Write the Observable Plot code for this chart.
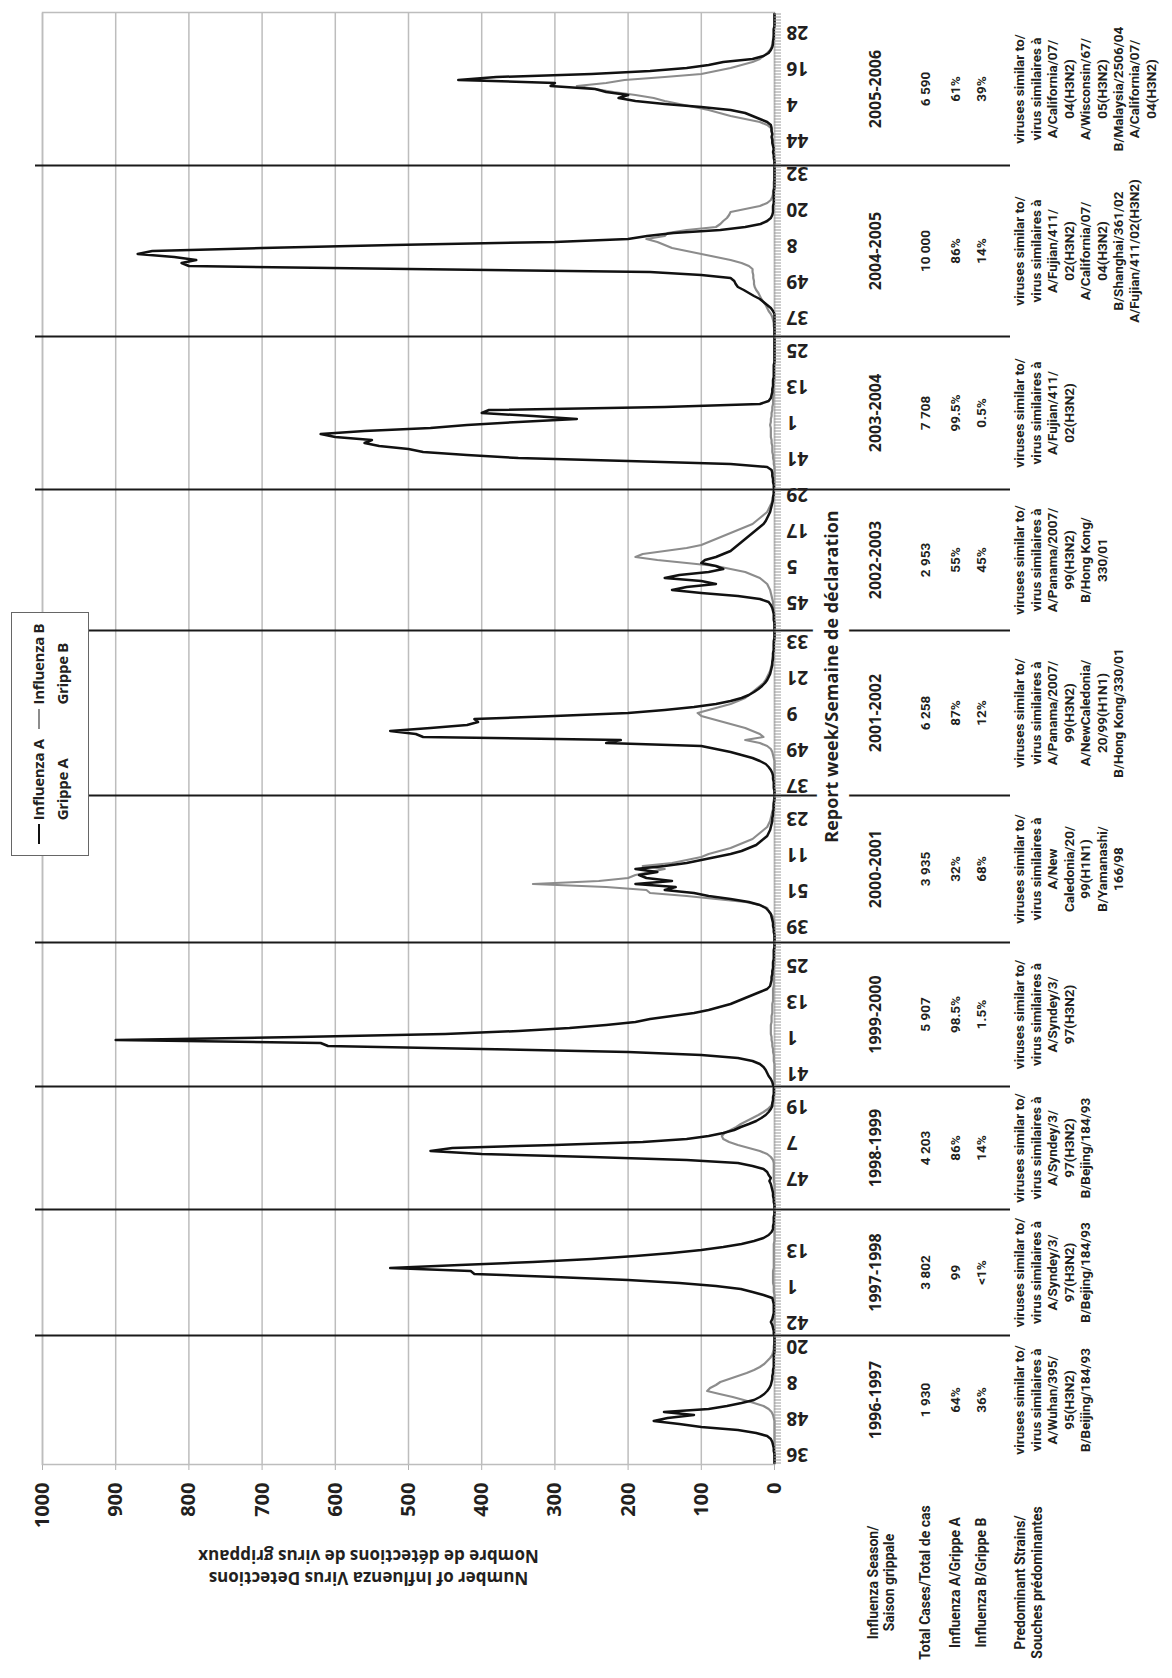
<!DOCTYPE html>
<html><head><meta charset="utf-8">
<script src="https://cdn.jsdelivr.net/npm/d3@7"></script>
<script src="https://cdn.jsdelivr.net/npm/@observablehq/plot@0.6"></script>
<style>
html,body{margin:0;padding:0;background:#fff;overflow:hidden;width:1172px;height:1678px;}
#page{position:absolute;left:0;top:0;width:1678px;height:1172px;transform-origin:0 0;transform:translate(0,1678px) rotate(-90deg);background:#fff;font-family:"Open Sans",sans-serif;color:#231f20;}
#legend{position:absolute;left:822px;top:11px;width:244px;height:78px;border:1.5px solid #666;background:#fff;display:flex;align-items:center;justify-content:space-evenly;box-sizing:border-box;}
.item{display:flex;align-items:flex-start;font-weight:700;font-size:15px;line-height:1.6;white-space:nowrap;letter-spacing:-0.3px;}
.sw{width:20px;height:0;border-top:2.5px solid #111;margin:12px 4px 0 0;}
</style></head><body><div id="page"></div>
<script>
// ---- data ----
const seasons = ["1996-1997","1997-1998","1998-1999","1999-2000","2000-2001","2001-2002","2002-2003","2003-2004","2004-2005","2005-2006"];
const firstWeek = [33, 38, 37, 37, 34, 34, 36, 31, 31, 36];
const weeksInFirstYear = [52, 53, 52, 52, 52, 52, 52, 52, 53, 52];
const weekLabels = [[36,48,8,20],[42,1,13],[47,7,19],[41,1,13,25],[39,51,11,23],[37,49,9,21,33],[45,5,17,29],[41,1,13,25],[37,49,8,20,32],[44,4,16,28]];

const fluA = [
  [0,0,0,0,1,1,2,3,5,10, 25,50,100,130,165,146,110,151,90,65, 45,28,20,14,10,7,5,4,3,3, 2,2,1,1,1,1,1,0,0,0, 0,0,0],
  [1,1,2,3,5,3,2,1,1,1, 1,2,3,15,30,46,80,130,200,300, 410,415,525,430,330,250,190,140,100,70, 45,28,15,8,4,2,2,1,1,1, 0,0],
  [0,0,1,1,2,2,3,4,5,7, 5,8,10,15,30,50,120,250,400,470, 440,300,180,120,90,70,55,46,35,25, 18,12,8,5,3,3,2,2,1,1, 1],
  [2,3,5,8,10,12,15,20,30,50, 100,200,400,610,620,900,650,450,350,280, 230,190,170,140,110,90,75,60,50,40, 30,20,10,6,5,4,4,3,3,2, 2,2,1,1,1,1,0,0],
  [0,0,0,1,1,2,2,3,4,5, 8,12,20,35,60,90,110,150,135,190, 140,175,185,160,190,150,120,100,80,60, 45,35,25,20,15,10,8,6,5,4, 3,3,2,2,1,1,1,0,0],
  [0,0,1,1,1,2,2,3,5,8, 12,20,30,45,60,80,100,230,210,480, 490,525,470,420,405,410,300,200,150,110, 80,60,45,35,28,22,17,13,10,8, 6,5,4,3,3,2,2,2,1,1, 1,1,0,0,0],
  [0,0,0,1,1,1,2,3,5,8, 20,50,100,140,120,80,100,150,130,90, 70,80,100,95,80,70,60,55,50,45, 40,35,30,25,20,15,12,10,8,6, 5,4,3,2,2,1,1],
  [1,1,2,2,3,3,4,10,60,200, 350,420,480,500,540,560,550,600,620,560, 470,420,350,270,330,400,390,150,20,8, 5,4,3,3,2,2,2,1,1,1, 1,1,0,0,0,0,0,0,0,0, 0],
  [0,0,0,0,0,0,0,0,2,5, 10,15,20,28,35,42,50,53,55,60, 100,170,500,800,810,790,820,870,850,700, 520,300,200,174,138,74,40,19,10,5, 3,2,2,2,1,1,1,1,1,0, 0,0,0,0,0,0,0],
  [0,0,1,1,2,1,2,3,3,4, 3,4,4,5,10,20,30,40,60,100, 150,190,213,200,230,245,306,300,432,380, 250,170,120,90,70,30,15,8,5,3, 2,2,1,1,1,1,0,0,0,0, 0]
];
const fluB = [
  [0,0,0,0,0,0,0,0,0,0, 0,0,0,0,0,1,2,4,8,15, 28,42,57,75,92,88,80,74,62,50, 38,28,20,14,10,6,3,2,1,1, 0,0,0],
  [0,0,0,0,0,0,0,0,0,0, 0,0,0,0,1,1,1,2,2,2, 2,2,1,1,1,1,1,1,1,1, 1,0,0,0,0,0,0,0,0,0, 0,0],
  [0,0,0,0,0,0,0,0,0,1, 1,1,1,1,1,1,2,5,10,20, 35,50,62,70,72,68,60,52,46,38, 30,22,15,9,5,2,1,1,0,0, 0],
  [0,0,0,0,0,0,0,0,1,1, 1,2,2,3,3,4,4,5,5,5, 5,4,4,4,3,3,3,3,2,2, 2,2,2,1,1,1,1,1,1,1, 0,0,0,0,0,0,0,0],
  [0,0,0,0,0,0,0,1,2,5, 8,10,20,40,80,120,170,175,230,330, 240,200,190,170,150,180,140,120,100,90, 75,60,50,40,30,25,20,15,10,8, 6,5,4,3,2,2,1,1,0],
  [0,0,0,0,0,0,0,0,0,0, 0,0,1,2,3,5,10,20,40,15, 20,30,40,55,70,85,100,105,90,75, 60,50,40,35,30,25,20,15,12,10, 8,6,5,4,3,3,2,2,1,1, 1,0,0,0,0],
  [0,0,0,0,0,0,1,1,2,2, 3,4,5,6,8,10,15,20,30,40, 60,80,120,160,190,180,150,120,100,90, 80,70,60,50,40,30,25,20,15,10, 8,6,4,3,2,1,1],
  [0,0,0,0,0,0,0,0,1,1, 2,2,3,3,3,4,4,5,5,5, 5,6,5,5,4,4,3,3,2,2, 2,1,1,1,1,1,0,0,0,0, 0,0,0,0,0,0,0,0,0,0, 0],
  [0,0,0,1,1,2,3,5,8,10, 12,15,18,20,22,25,27,28,28,29, 29,30,30,35,45,60,80,100,120,140, 150,160,175,150,146,120,80,74,70,65, 62,60,40,20,10,5,3,2,2,1, 1,1,0,0,0,0,0],
  [0,0,0,0,1,1,1,2,2,3, 3,4,5,10,20,40,60,75,90,110, 130,150,165,190,220,245,270,230,205,150, 100,80,60,45,30,20,15,10,6,4, 3,2,2,1,1,1,0,0,0,0, 0]
];

const yTicks = [0,100,200,300,400,500,600,700,800,900,1000];
const totalCases = ["1 930","3 802","4 203","5 907","3 935","6 258","2 953","7 708","10 000","6 590"];
const pctA = ["64%","99","86%","98.5%","32%","87%","55%","99.5%","86%","61%"];
const pctB = ["36%","<1%","14%","1.5%","68%","12%","45%","0.5%","14%","39%"];
const strains = [
  "viruses similar to/\nvirus similaires à\nA/Wuhan/395/\n95(H3N2)\nB/Beijing/184/93",
  "viruses similar to/\nvirus similaires à\nA/Syndey/3/\n97(H3N2)\nB/Bejing/184/93",
  "viruses similar to/\nvirus similaires à\nA/Syndey/3/\n97(H3N2)\nB/Bejing/184/93",
  "viruses similar to/\nvirus similaires à\nA/Syndey/3/\n97(H3N2)",
  "viruses similar to/\nvirus similaires à\nA/New\nCaledonia/20/\n99(H1N1)\nB/Yamanashi/\n166/98",
  "viruses similar to/\nvirus similaires à\nA/Panama/2007/\n99(H3N2)\nA/NewCaledonia/\n20/99(H1N1)\nB/Hong Kong/330/01",
  "viruses similar to/\nvirus similaires à\nA/Panama/2007/\n99(H3N2)\nB/Hong Kong/\n330/01",
  "viruses similar to/\nvirus similaires à\nA/Fujian/411/\n02(H3N2)",
  "viruses similar to/\nvirus similaires à\nA/Fujian/411/\n02(H3N2)\nA/California/07/\n04(H3N2)\nB/Shanghai/361/02\nA/Fujian/411/02(H3N2)",
  "viruses similar to/\nvirus similaires à\nA/California/07/\n04(H3N2)\nA/Wisconsin/67/\n05(H3N2)\nB/Malaysia/2506/04\nA/California/07/\n04(H3N2)"
];
const rowLabels = ["Influenza Season/\nSaison grippale","Total Cases/Total de cas","Influenza A/Grippe A","Influenza B/Grippe B","Predominant Strains/\nSouches prédominantes"];
const yTitle = "Number of Influenza Virus Detections\nNombre de détections de virus grippaux";
const xTitle = "Report week/Semaine de déclaration";
const legendItems = [["Influenza A","Grippe A"],["Influenza B","Grippe B"]];

// ---- build tables ----
const records = [], tickPos = [], labelRecs = [], bounds = [], table = [];
let offset = 0;
seasons.forEach((s, si) => {
  const n = fluA[si].length;
  const weeks = [];
  for (let i = 0; i < n; i++) {
    let wk = firstWeek[si] + i;
    if (wk > weeksInFirstYear[si]) wk -= weeksInFirstYear[si];
    weeks.push(wk);
    records.push({season: s, pos: offset + i + 0.5, a: fluA[si][i], b: fluB[si][i]});
    tickPos.push(offset + i + 0.5);
  }
  let from = 0;
  for (const L of weekLabels[si]) {
    const i = weeks.indexOf(L, from);
    if (i >= 0) { labelRecs.push({week: L, pos: offset + i + 0.5}); from = i + 1; }
  }
  table.push({season: s, center: offset + n / 2, total: totalCases[si], a: pctA[si], b: pctB[si], strains: strains[si]});
  offset += n;
  bounds.push(offset);
});
const total = offset;

const ink = "#231f20";
const tableFont = "Roboto, 'Open Sans', sans-serif";
const rowText = {frameAnchor: "bottom-left", dx: -118, textAnchor: "middle", fontSize: 14, fontFamily: tableFont, fill: ink};

const plot = Plot.plot({
  width: 1678, height: 1172,
  marginLeft: 213, marginRight: 13, marginTop: 42, marginBottom: 398,
  x: {domain: [0, total], axis: null},
  y: {domain: [0, 1000], axis: null},
  style: {fontFamily: "'Open Sans', sans-serif", fontWeight: 700, color: ink, background: "white", overflow: "visible"},
  marks: [
    Plot.gridY(yTicks, {stroke: "#bdbdbd", strokeOpacity: 1, strokeWidth: 1.5}),
    Plot.frame({stroke: "#bdbdbd", strokeWidth: 1.5}),
    Plot.ruleX(bounds.slice(0, -1), {stroke: "#1a1a1a", strokeWidth: 2, insetTop: -7, insetBottom: -236}),
    Plot.lineY(records, {x: "pos", y: "b", z: "season", stroke: "#8c8c8c", strokeWidth: 2.2}),
    Plot.lineY(records, {x: "pos", y: "a", z: "season", stroke: "#111", strokeWidth: 2.5}),
    Plot.axisY({ticks: yTicks, tickFormat: d => String(d), tickSize: 5, tickPadding: 13, fontSize: 20, label: null, stroke: "#b0b0b0"}),
    Plot.axisX({ticks: tickPos, tickSize: 7, tickFormat: () => "", label: null, stroke: "#9a9a9a"}),
    Plot.text(labelRecs, {x: "pos", text: d => String(d.week), frameAnchor: "bottom", rotate: -90, textAnchor: "end", lineAnchor: "middle", dy: 12, fontSize: 19, fill: ink}),
    Plot.text([xTitle], {text: d => d, frameAnchor: "bottom", textAnchor: "middle", dx: 62, dy: 63, fontSize: 18, fill: ink, stroke: "white", strokeWidth: 22, paintOrder: "stroke"}),
    Plot.text([yTitle], {text: d => d, frameAnchor: "left", textAnchor: "middle", rotate: -90, dx: -104, dy: -40, fontSize: 17, lineHeight: 1.3, lineAnchor: "middle", fill: ink}),
    // table
    Plot.text(table, {x: "center", text: "season", frameAnchor: "bottom", dy: 106, fontSize: 16, fill: ink}),
    Plot.text(table, {x: "center", text: "total", frameAnchor: "bottom", dy: 155, fontSize: 13.5, fontFamily: tableFont, fill: ink}),
    Plot.text(table, {x: "center", text: "a", frameAnchor: "bottom", dy: 185, fontSize: 13.5, fontFamily: tableFont, fill: ink}),
    Plot.text(table, {x: "center", text: "b", frameAnchor: "bottom", dy: 211, fontSize: 13.5, fontFamily: tableFont, fill: ink}),
    Plot.text(table, {x: "center", text: "strains", frameAnchor: "bottom", dy: 238, lineAnchor: "top", lineHeight: 1.22, fontSize: 13.5, fontFamily: tableFont, fill: ink}),
    Plot.text([rowLabels[0]], {...rowText, text: d => d, dy: 106, lineHeight: 1.15, lineAnchor: "middle"}),
    Plot.text([rowLabels[1]], {...rowText, text: d => d, dy: 155}),
    Plot.text([rowLabels[2]], {...rowText, text: d => d, dy: 185}),
    Plot.text([rowLabels[3]], {...rowText, text: d => d, dy: 211}),
    Plot.text([rowLabels[4]], {...rowText, text: d => d, dy: 238, lineAnchor: "top", lineHeight: 1.22})
  ]
});

const page = document.getElementById("page");
page.appendChild(plot);

// legend
const legend = document.createElement("div");
legend.id = "legend";
legendItems.forEach((lines, i) => {
  const it = document.createElement("div");
  it.className = "item";
  const sw = document.createElement("div");
  sw.className = "sw";
  sw.style.borderTopColor = i === 0 ? "#111" : "#8c8c8c";
  it.appendChild(sw);
  const tx = document.createElement("div");
  tx.innerHTML = lines.join("<br>");
  it.appendChild(tx);
  legend.appendChild(it);
});
page.appendChild(legend);
</script></body></html>
